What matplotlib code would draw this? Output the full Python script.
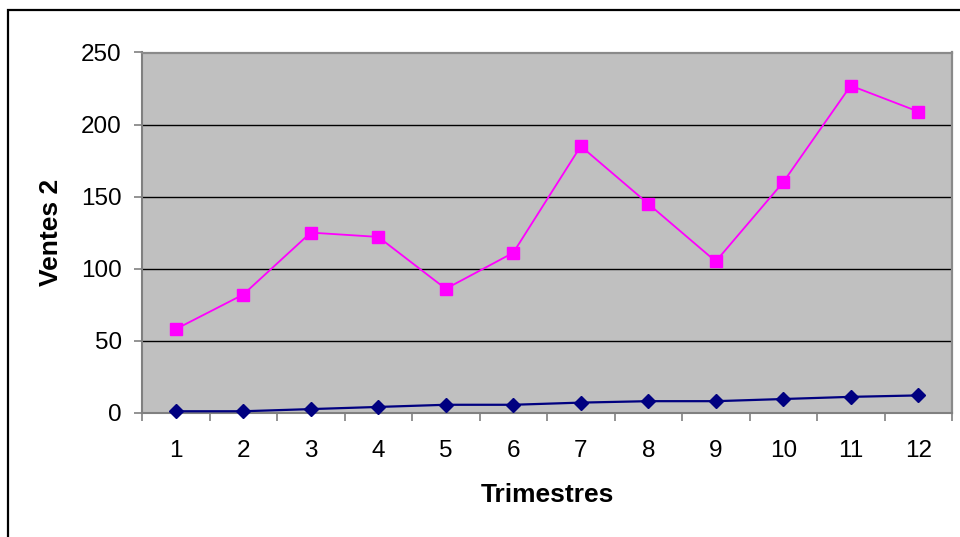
import matplotlib
matplotlib.use("Agg")
import matplotlib.pyplot as plt
from matplotlib.patches import Rectangle

trimestres = list(range(1, 13))
ventes_2 = [58, 82, 125, 122, 86, 111, 185, 145, 105, 160, 227, 209]
ventes_1 = [1, 1, 2.5, 4, 5.5, 5.5, 7, 8, 8, 9.5, 11, 12]
y_ticks = [0, 50, 100, 150, 200, 250]

plt.rcParams["font.family"] = ["Liberation Sans", "DejaVu Sans"]

W, H = 960, 537
fig = plt.figure(figsize=(W / 100, H / 100), dpi=100)
fig.patch.set_facecolor("white")
# outer chart frame (right and bottom edges fall outside the picture)
fig.patches.append(Rectangle((8 / W, -0.05), 1.0, 1 - 10 / H + 0.05,
                             transform=fig.transFigure, fill=False,
                             edgecolor="black", linewidth=1.6))

ax_l, ax_r, ax_t, ax_b = 142, 952, 52.5, 412.7
ax = fig.add_axes([ax_l / W, 1 - ax_b / H, (ax_r - ax_l) / W, (ax_b - ax_t) / H])
ax.set_facecolor("#C0C0C0")

for y in y_ticks[1:-1]:
    ax.axhline(y, color="black", linewidth=1, zorder=1)

ax.plot(trimestres, ventes_1, color="#000080", marker="D", markersize=7,
        linewidth=1.6, zorder=3, clip_on=False)
ax.plot(trimestres, ventes_2, color="#FF00FF", marker="s", markersize=9,
        linewidth=1.3, zorder=3, clip_on=False)

ax.set_xlim(0.5, 12.5)
ax.set_ylim(0, 250)
ax.set_yticks(y_ticks)
ax.set_xticks([t - 0.5 for t in trimestres] + [12.5])
ax.set_xticklabels([])
ax.set_xticks(trimestres, minor=True)
ax.set_xticklabels([str(t) for t in trimestres], minor=True)
ax.tick_params(axis="x", which="major", length=6, width=1.2, color="#808080", direction="out")
ax.tick_params(axis="x", which="minor", length=0, pad=19.5, labelsize=17.5)
ax.tick_params(axis="y", length=6, width=1.2, color="#808080", direction="out",
               labelsize=17.5, pad=8.5)

for side in ["top", "right"]:
    ax.spines[side].set_color("#8A8A8A")
    ax.spines[side].set_linewidth(1.6)
for side in ["left", "bottom"]:
    ax.spines[side].set_color("#808080")
    ax.spines[side].set_linewidth(1.5)

ax.set_xlabel("Trimestres", fontsize=19, fontweight="bold")
ax.xaxis.label.set_va("center")
ax.xaxis.set_label_coords(0.5, (ax_b - 495) / (ax_b - ax_t))
ax.set_ylabel("Ventes 2", fontsize=19, fontweight="bold")
ax.yaxis.label.set_va("center")
ax.yaxis.set_label_coords((51.5 - ax_l) / (ax_r - ax_l), (ax_b - 232) / (ax_b - ax_t))

fig.savefig("out.png", dpi=100)
